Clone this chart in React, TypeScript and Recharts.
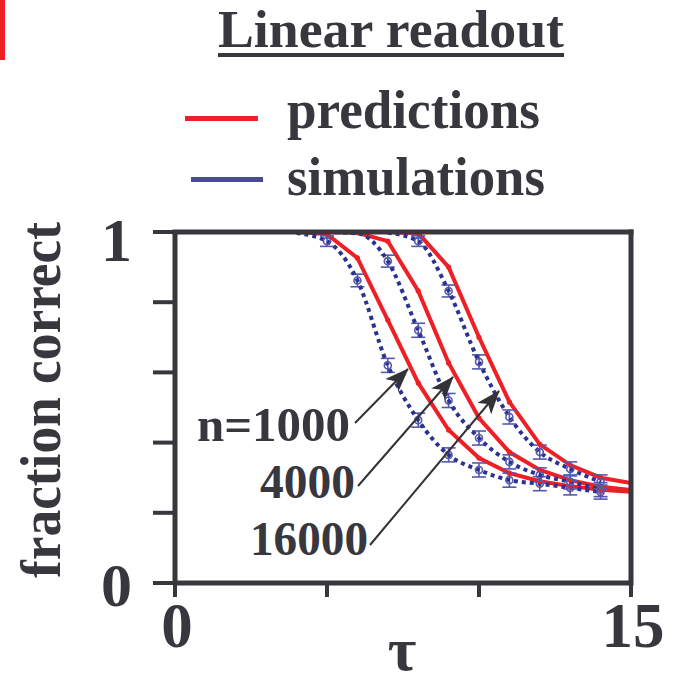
import React from 'react';
import { LineChart, Line, XAxis, YAxis, ErrorBar, ReferenceLine } from 'recharts';

// ---------- data ----------
const xTicks = [0, 5, 10, 15];
const yTicks = [0, 0.2, 0.4, 0.6, 0.8, 1];
const xTickLabels = ['0', '', '', '15'];
const yTickLabels = ['0', '', '', '', '', '1'];
const xDomain = [0, 15];
const yDomain = [0, 1];

// predictions (red, solid)
const pred1000Tau = [4, 5, 6, 7, 8, 9, 10, 11, 12, 13, 14, 15];
const pred1000 = [1.0, 0.994, 0.926, 0.749, 0.57, 0.436, 0.356, 0.313, 0.29, 0.276, 0.266, 0.26];
const pred4000Tau = [5, 6, 7, 8, 9, 10, 11, 12, 13, 14, 15];
const pred4000 = [1.0, 0.998, 0.974, 0.832, 0.627, 0.47, 0.373, 0.322, 0.293, 0.274, 0.265];
const pred16000Tau = [7, 8, 9, 10, 11, 12, 13, 14, 15];
const pred16000 = [1.0, 0.997, 0.9, 0.7, 0.516, 0.395, 0.336, 0.3, 0.285];

// simulations (blue, dotted, with error bars)
const sim1000Tau = [4, 5, 6, 7, 8, 9, 10, 11, 12, 13, 14];
const sim1000 = [0.997, 0.974, 0.862, 0.62, 0.464, 0.365, 0.322, 0.293, 0.283, 0.271, 0.259];
const sim1000Err = [0.0, 0.015, 0.018, 0.02, 0.02, 0.02, 0.02, 0.02, 0.02, 0.02, 0.02];
const sim4000Tau = [5, 6, 7, 8, 9, 10, 11, 12, 13, 14];
const sim4000 = [1.0, 0.996, 0.917, 0.72, 0.52, 0.413, 0.345, 0.308, 0.288, 0.266];
const sim4000Err = [0.0, 0.0, 0.017, 0.02, 0.02, 0.02, 0.02, 0.02, 0.02, 0.02];
const sim16000Tau = [7, 8, 9, 10, 11, 12, 13, 14];
const sim16000 = [0.998, 0.974, 0.832, 0.63, 0.473, 0.373, 0.325, 0.288];
const sim16000Err = [0.0, 0.015, 0.017, 0.02, 0.02, 0.02, 0.02, 0.02];

const seriesLabels = ['n=1000', '4000', '16000'];

const build = (taus: number[], vals: number[], errs?: number[]) =>
  taus.map((t, i) => ({ tau: t, v: vals[i], e: errs ? errs[i] : 0 }));

// ---------- styles ----------
const FONT = '"Liberation Serif", "Times New Roman", serif';
const INK = '#38373d';
const RED = '#ee1f25';
const BLUE = '#2b3290';
const ERRC = '#5459ae';
const LEG_BLUE = '#4b4c8e';

const W = 683;
const H = 685;

const YTick = (props: any) => {
  const { x, y, payload, index } = props;
  const label = yTickLabels[index] ?? '';
  if (!label) return <g />;
  const isTop = payload.value === 1;
  return (
    <text x={x} y={y} dx={-19} dy={isTop ? 29 : 23} textAnchor="end"
      fontFamily={FONT} fontWeight="bold" fontSize={62} fill={INK}>
      {label}
    </text>
  );
};

const XTick = (props: any) => {
  const { x, y, index } = props;
  const label = xTickLabels[index] ?? '';
  if (!label) return <g />;
  return (
    <text x={x} y={y} dx={2} dy={48} textAnchor="middle"
      fontFamily={FONT} fontWeight="bold" fontSize={63} fill={INK}>
      {label}
    </text>
  );
};

const simDot = (p: any) => {
  const hidden = p.payload && p.payload.v >= 0.99;
  if (hidden) return <g key={`d-${p.index}-${p.cx}`} />;
  return (
    <circle key={`d-${p.index}-${p.cx}`} cx={p.cx} cy={p.cy} r={3.5} fill="none"
      stroke={ERRC} strokeWidth={1.6} />
  );
};

const predDot = (p: any) => {
  const hidden = p.payload && p.payload.v >= 0.999;
  if (hidden) return <g key={`p-${p.index}-${p.cx}`} />;
  return <circle key={`p-${p.index}-${p.cx}`} cx={p.cx} cy={p.cy} r={2.6} fill={RED} stroke="none" />;
};

export default function App() {
  const p1 = build(pred1000Tau, pred1000);
  const p4 = build(pred4000Tau, pred4000);
  const p16 = build(pred16000Tau, pred16000);
  const s1 = build(sim1000Tau, sim1000, sim1000Err);
  const s4 = build(sim4000Tau, sim4000, sim4000Err);
  const s16 = build(sim16000Tau, sim16000, sim16000Err);

  const textStyle = { fontFamily: FONT, fontWeight: 'bold' as const, fill: INK };
  const frameProps: any = { stroke: INK, strokeWidth: 5, strokeLinecap: 'square', ifOverflow: 'visible', zIndex: 2000 };

  return (
    <div style={{ position: 'absolute', left: 0, top: 0, width: W, height: H, background: '#fff' }}>
      <LineChart width={W} height={H} margin={{ top: 232, right: 52, bottom: 42, left: 75 }}>
        <XAxis type="number" dataKey="tau" domain={xDomain} ticks={xTicks} height={60}
          allowDataOverflow interval={0}
          axisLine={{ stroke: INK, strokeWidth: 5 }}
          tickLine={{ stroke: INK, strokeWidth: 4 }} tickSize={14} tick={<XTick />} />
        <YAxis type="number" domain={yDomain} ticks={yTicks} width={100} interval={0}
          axisLine={{ stroke: INK, strokeWidth: 5 }}
          tickLine={{ stroke: INK, strokeWidth: 4 }} tickSize={22} tick={<YTick />} />

        <Line data={p1} dataKey="v" type="linear" stroke={RED} strokeWidth={4} dot={predDot} isAnimationActive={false} />
        <Line data={p4} dataKey="v" type="linear" stroke={RED} strokeWidth={4} dot={predDot} isAnimationActive={false} />
        <Line data={p16} dataKey="v" type="linear" stroke={RED} strokeWidth={4} dot={predDot} isAnimationActive={false} />

        <Line data={s1} dataKey="v" type="monotone" stroke={BLUE} strokeWidth={4} strokeDasharray="4 4"
          dot={simDot} isAnimationActive={false}>
          <ErrorBar dataKey="e" width={7} stroke={ERRC} strokeWidth={1.6} direction="y" />
        </Line>
        <Line data={s4} dataKey="v" type="monotone" stroke={BLUE} strokeWidth={4} strokeDasharray="4 4"
          dot={simDot} isAnimationActive={false}>
          <ErrorBar dataKey="e" width={7} stroke={ERRC} strokeWidth={1.6} direction="y" />
        </Line>
        <Line data={s16} dataKey="v" type="monotone" stroke={BLUE} strokeWidth={4} strokeDasharray="4 4"
          dot={simDot} isAnimationActive={false}>
          <ErrorBar dataKey="e" width={7} stroke={ERRC} strokeWidth={1.6} direction="y" />
        </Line>

        {/* frame: top and right */}
        <ReferenceLine y={yDomain[1]} {...frameProps} />
        <ReferenceLine x={xDomain[1]} {...frameProps} />
      </LineChart>

      <svg width={W} height={H} style={{ position: 'absolute', left: 0, top: 0, pointerEvents: 'none' }}>
        <defs>
          <marker id="arrow" viewBox="0 0 24 18" refX="23" refY="9" markerWidth="24" markerHeight="18"
            markerUnits="userSpaceOnUse" orient="auto">
            <path d="M0,0 L24,9 L0,18 L6,9 Z" fill="#333236" />
          </marker>
        </defs>

        {/* stray red mark from neighbouring panel */}
        <rect x={0} y={0} width={5} height={60} fill={RED} />

        {/* title + legend */}
        <text x={218} y={47} fontSize={53} textLength={346} lengthAdjust="spacingAndGlyphs" {...textStyle}>Linear readout</text>
        <rect x={218} y={53} width={346} height={4} fill={INK} />
        <rect x={185} y={116} width={73} height={5} fill={RED} />
        <text x={287} y={128} fontSize={54} textLength={253} lengthAdjust="spacingAndGlyphs" {...textStyle}>predictions</text>
        <rect x={191} y={177} width={72} height={5} fill={LEG_BLUE} />
        <text x={287} y={195} fontSize={54} textLength={258} lengthAdjust="spacingAndGlyphs" {...textStyle}>simulations</text>

        {/* axis titles */}
        <text x={60} y={400} fontSize={56} textAnchor="middle" textLength={356} lengthAdjust="spacingAndGlyphs"
          transform="rotate(-90 60 400)" {...textStyle}>fraction correct</text>
        <text x={402} y={670} fontSize={62} textAnchor="middle" {...textStyle}>τ</text>

        {/* curve annotations */}
        <text x={350} y={441} fontSize={48} textAnchor="end" textLength={153} lengthAdjust="spacingAndGlyphs" {...textStyle}>{seriesLabels[0]}</text>
        <text x={355} y={498} fontSize={48} textAnchor="end" textLength={95} lengthAdjust="spacingAndGlyphs" {...textStyle}>{seriesLabels[1]}</text>
        <text x={368} y={555} fontSize={48} textAnchor="end" textLength={118} lengthAdjust="spacingAndGlyphs" {...textStyle}>{seriesLabels[2]}</text>
        <line x1={355} y1={423} x2={408} y2={369} stroke="#333236" strokeWidth={2} markerEnd="url(#arrow)" />
        <line x1={358} y1={486} x2={453} y2={377} stroke="#333236" strokeWidth={2} markerEnd="url(#arrow)" />
        <line x1={370} y1={545} x2={499} y2={391} stroke="#333236" strokeWidth={2} markerEnd="url(#arrow)" />
      </svg>
    </div>
  );
}
